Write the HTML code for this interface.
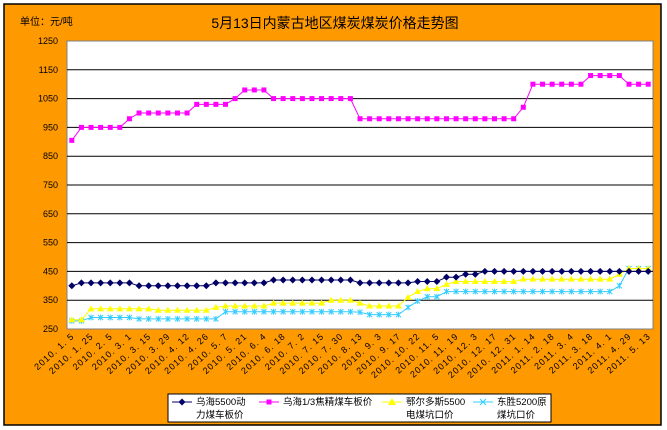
<!DOCTYPE html>
<html><head><meta charset="utf-8"><style>
html,body{margin:0;padding:0;background:#fff}
svg{display:block}
text{font-family:"Liberation Sans","Noto Sans CJK SC",sans-serif}
</style></head><body>
<svg id="s" width="667" height="430" xmlns="http://www.w3.org/2000/svg">
<rect x="0" y="0" width="667" height="430" fill="#fff"/>
<rect x="4" y="4" width="657" height="421" fill="#FF9900" stroke="#000" stroke-width="1.5"/>
<text x="20" y="25" font-size="10" fill="#000">单位：元/吨</text>
<text x="335" y="28" font-size="14" text-anchor="middle" fill="#000">5月13日内蒙古地区煤炭煤炭价格走势图</text>
<rect x="67" y="41" width="586" height="288" fill="#fff" stroke="#808080" stroke-width="1"/>
<g id="g"></g>
<rect x="168" y="394" width="383" height="28" fill="#fff" stroke="#000" stroke-width="1"/>
<g font-size="9.5" fill="#000">
<line x1="172" y1="402" x2="192" y2="402" stroke="#000066" stroke-width="1"/><path d="M182 398.5L185.5 402 182 405.5 178.5 402Z" fill="#000066"/>
<text x="196" y="405">乌海5500动</text><text x="196" y="418">力煤车板价</text>
<line x1="259" y1="402" x2="279" y2="402" stroke="#FF00FF"/><rect x="266.5" y="399.5" width="5" height="5" fill="#FF00FF"/>
<text x="283" y="405">乌海1/3焦精煤车板价</text>
<line x1="382" y1="402" x2="402" y2="402" stroke="#FFFF00"/><path d="M392 398L396 405 388 405Z" fill="#FFFF00"/>
<text x="406" y="405">鄂尔多斯5500</text><text x="406" y="418">电煤坑口价</text>
<line x1="473" y1="402" x2="493" y2="402" stroke="#33CCFF"/><path d="M480 399L486 405M486 399L480 405" stroke="#33CCFF"/>
<text x="497" y="405">东胜5200原</text><text x="497" y="418">煤坑口价</text>
</g>
</svg>
<script>
function rep(a){var r=[];for(var i=0;i<a.length;i+=2)for(var j=0;j<a[i+1];j++)r.push(a[i]);return r;}
var pink=rep([905,1,950,5,980,1,1000,6,1030,4,1050,1,1080,3,1050,9,980,17,1020,1,1100,6,1130,4,1100,3]);
var navy=rep([400,1,410,6,400,8,410,6,420,9,410,6,415,3,430,2,440,2,450,18]);
var yel=rep([282,2,320,7,315,6,325,1,330,5,340,6,350,3,340,1,330,4,360,1,380,1,390,2,405,1,415,7,423,10,440,1,460,3]);
var cy=rep([278,2,290,5,285,9,310,14,308,1,300,4,325,1,347,1,362,2,380,18,400,1,460,3]);
var N=61,L=67,W=586,T=41,B=329;
function X(i){return L+(i+0.5)*W/N;}
function Y(v){return B-(v-250)*(B-T)/1000;}
var s='';
for(var v=350;v<=1150;v+=100)s+='<line x1="67" x2="653" y1="'+Y(v)+'" y2="'+Y(v)+'" stroke="#000" stroke-width="1"/>';
for(var v=250;v<=1250;v+=100)s+='<text x="58" y="'+(Y(v)+3)+'" font-size="9" text-anchor="end">'+v+'</text>';
var labs=["2010.1.5","2010.1.25","2010.2.5","2010.3.1","2010.3.15","2010.3.29","2010.4.12","2010.4.26","2010.5.7","2010.5.21","2010.6.4","2010.6.18","2010.7.2","2010.7.15","2010.7.30","2010.8.13","2010.9.3","2010.9.17","2010.10.22","2010.11.5","2010.11.19","2010.12.3","2010.12.17","2010.12.31","2011.1.14","2011.2.18","2011.3.4","2011.3.18","2011.4.1","2011.4.29","2011.5.13"];
for(var k=0;k<labs.length;k++){var x=X(2*k)+3,y=337;s+='<text x="'+x+'" y="'+y+'" font-size="9" text-anchor="end" letter-spacing="1" transform="rotate(-42 '+x+' '+y+')">'+labs[k].split('.').join('. ')+'</text>';}
function line(d,c){var p='';for(var i=0;i<N;i++)p+=(i?'L':'M')+X(i).toFixed(1)+' '+Y(d[i]).toFixed(1);return '<path d="'+p+'" fill="none" stroke="'+c+'" stroke-width="1"/>';}
s+=line(cy,'#33CCFF');s+=line(yel,'#FFFF00');s+=line(navy,'#000066');s+=line(pink,'#FF00FF');
for(var i=0;i<N;i++){var x=X(i),y;
y=Y(cy[i]);s+='<path d="M'+(x-2.5)+' '+(y-2.5)+'L'+(x+2.5)+' '+(y+2.5)+'M'+(x+2.5)+' '+(y-2.5)+'L'+(x-2.5)+' '+(y+2.5)+'M'+x+' '+(y-3)+'L'+x+' '+(y+3)+'" stroke="#33CCFF"/>';
y=Y(yel[i]);s+='<path d="M'+x+' '+(y-3.5)+'L'+(x+3.5)+' '+(y+2.5)+'L'+(x-3.5)+' '+(y+2.5)+'Z" fill="#FFFF00"/>';
y=Y(navy[i]);s+='<path d="M'+x+' '+(y-3.5)+'L'+(x+3.5)+' '+y+'L'+x+' '+(y+3.5)+'L'+(x-3.5)+' '+y+'Z" fill="#000066"/>';
y=Y(pink[i]);s+='<rect x="'+(x-2.5)+'" y="'+(y-2.5)+'" width="5" height="5" fill="#FF00FF"/>';}
document.getElementById('g').innerHTML=s;
</script>
</body></html>
